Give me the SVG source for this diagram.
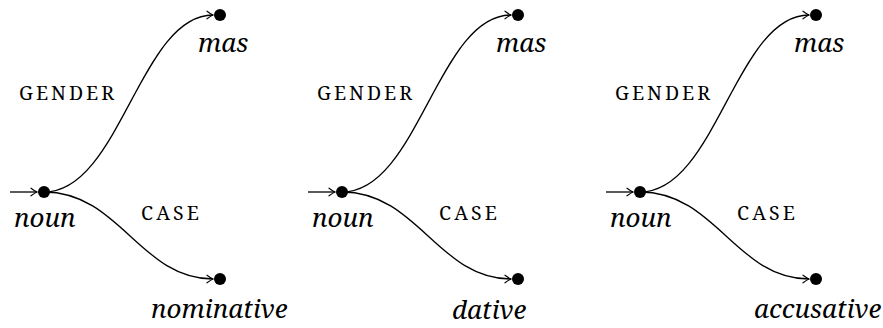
<svg xmlns="http://www.w3.org/2000/svg" width="883" height="328" viewBox="0 0 883 328">
<defs>
<style>
.it{font-family:"Noto Serif","DejaVu Serif",serif;font-style:italic;font-size:26px;fill:#000}
.sc{font-family:"Noto Serif","DejaVu Serif",serif;font-size:19.5px;fill:#000}
.edge{fill:none;stroke:#000;stroke-width:1.3}
.dot{fill:#000}
</style>
<marker id="to" viewBox="-7 -5 8 10" markerWidth="8" markerHeight="10" refX="0" refY="0" orient="auto" markerUnits="userSpaceOnUse">
<path d="M-6,-3.8 Q-2,-0.8 0,0 Q-2,0.8 -6,3.8" fill="none" stroke="#000" stroke-width="1.1" stroke-linecap="round"/>
</marker>
</defs>

<g id="panel1">
<g id="connectors1">
<path class="edge" d="M10,192 L37,192" marker-end="url(#to)"/>
<path class="edge" d="M44,192 C120,192 140,15 213,15" marker-end="url(#to)"/>
<path class="edge" d="M44,192 C120,192 140,279 213,279" marker-end="url(#to)"/>
</g>
<g id="noun1"><circle class="dot" cx="44" cy="192" r="6"/><text class="it" x="14" y="227">noun</text></g>
<g id="mas1"><circle class="dot" cx="220" cy="15" r="6"/><text class="it" x="198" y="52">mas</text></g>
<g id="nominative1"><circle class="dot" cx="220" cy="279" r="6"/><text class="it" x="151" y="318">nominative</text></g>
<g id="gender1"><text class="sc" x="19" y="100" textLength="95">GENDER</text></g>
<g id="case1"><text class="sc" x="141" y="220" textLength="58">CASE</text></g>
</g>

<g id="panel2" transform="translate(298,0)">
<g id="connectors2">
<path class="edge" d="M10,192 L37,192" marker-end="url(#to)"/>
<path class="edge" d="M44,192 C120,192 140,15 213,15" marker-end="url(#to)"/>
<path class="edge" d="M44,192 C120,192 140,279 213,279" marker-end="url(#to)"/>
</g>
<g id="noun2"><circle class="dot" cx="44" cy="192" r="6"/><text class="it" x="14" y="227">noun</text></g>
<g id="mas2"><circle class="dot" cx="220" cy="15" r="6"/><text class="it" x="198" y="52">mas</text></g>
<g id="dative2"><circle class="dot" cx="220" cy="279" r="6"/><text class="it" x="154" y="319">dative</text></g>
<g id="gender2"><text class="sc" x="19" y="100" textLength="95">GENDER</text></g>
<g id="case2"><text class="sc" x="141" y="220" textLength="58">CASE</text></g>
</g>

<g id="panel3" transform="translate(596,0)">
<g id="connectors3">
<path class="edge" d="M10,192 L37,192" marker-end="url(#to)"/>
<path class="edge" d="M44,192 C120,192 140,15 213,15" marker-end="url(#to)"/>
<path class="edge" d="M44,192 C120,192 140,279 213,279" marker-end="url(#to)"/>
</g>
<g id="noun3"><circle class="dot" cx="44" cy="192" r="6"/><text class="it" x="14" y="227">noun</text></g>
<g id="mas3"><circle class="dot" cx="220" cy="15" r="6"/><text class="it" x="198" y="52">mas</text></g>
<g id="accusative3"><circle class="dot" cx="220" cy="279" r="6"/><text class="it" x="158" y="318">accusative</text></g>
<g id="gender3"><text class="sc" x="19" y="100" textLength="95">GENDER</text></g>
<g id="case3"><text class="sc" x="141" y="220" textLength="58">CASE</text></g>
</g>
</svg>
